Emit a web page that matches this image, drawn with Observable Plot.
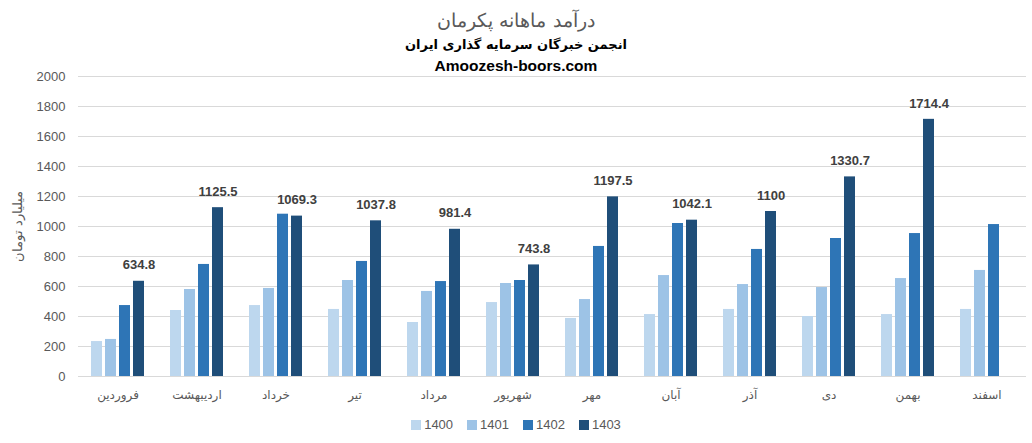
<!DOCTYPE html>
<html>
<head>
<meta charset="utf-8">
<script src="https://cdn.jsdelivr.net/npm/d3@7"></script>
<script src="https://cdn.jsdelivr.net/npm/@observablehq/plot@0.6"></script>
<style>
  body { margin: 0; background: #fff; width: 1032px; height: 443px; overflow: hidden; }
  #header { position: relative; height: 66px; z-index: 1; overflow: visible; pointer-events: none; }
  #header div { position: absolute; left: 0; right: 0; text-align: center; line-height: 24px; height: 24px; white-space: nowrap; }
  #t1 { top: 8px; font-family: "DejaVu Sans", sans-serif; font-size: 19px; font-weight: 300; color: #595959; }
  #t2 { top: 33px; font-family: "DejaVu Sans", sans-serif; font-size: 13px; font-weight: bold; color: #000; }
  #t3 { top: 54px; font-family: "Liberation Sans", Arial, sans-serif; font-size: 15.5px; font-weight: bold; color: #000; }
  #chart svg { display: block; background: transparent; }
  #legend { height: 37px; display: flex; justify-content: center; align-items: center; gap: 14px;
            font-family: "Liberation Sans", Arial, sans-serif; font-size: 13px; color: #595959; }
  #legend .item { display: flex; align-items: center; }
  #legend .sw { width: 10px; height: 10px; margin-right: 3px; }
</style>
</head>
<body>
<div id="header">
  <div id="t1">درآمد ماهانه پکرمان</div>
  <div id="t2">انجمن خبرگان سرمایه گذاری ایران</div>
  <div id="t3">Amoozesh-boors.com</div>
</div>
<div id="chart"></div>
<div id="legend"></div>
<script>
const months = ["فروردین","اردیبهشت","خرداد","تیر","مرداد","شهریور","مهر","آبان","آذر","دی","بهمن","اسفند"];
const years = ["1400","1401","1402","1403"];
const colors = ["#bdd7ee","#9dc3e6","#2e75b6","#1f4e79"];
const yTicks = [0,200,400,600,800,1000,1200,1400,1600,1800,2000];
const yLabel = "میلیارد تومان";

const v1400 = [233, 440, 473, 447, 360, 493, 387, 413, 447, 400, 413, 447];
const v1401 = [247, 580, 587, 640, 567, 620, 513, 673, 613, 593, 653, 707];
const v1402 = [473, 747, 1082, 767, 633, 640, 867, 1020, 847, 920, 953, 1013];
const v1403 = [634.8, 1125.5, 1069.3, 1037.8, 981.4, 743.8, 1197.5, 1042.1, 1100, 1330.7, 1714.4, null];

const series = [v1400, v1401, v1402, v1403];
const rows = [];
months.forEach((m, i) => {
  years.forEach((y, j) => {
    const v = series[j][i];
    if (v != null) rows.push({month: m, year: y, value: v});
  });
});
const labelled = rows.filter(d => d.year === "1403");

const chart = Plot.plot({
  width: 1032,
  height: 340,
  marginTop: 10,
  marginBottom: 30,
  marginLeft: 76,
  marginRight: 4,
  style: {background: "transparent"},
  fx: {domain: months, padding: 0, label: null, axis: null},
  x: {domain: years, axis: null, paddingInner: 0.2, paddingOuter: 0.835},
  y: {domain: [0, 2000], axis: null},
  color: {domain: years, range: colors},
  marks: [
    Plot.ruleY(yTicks, {stroke: "#d9d9d9", strokeWidth: 1}),
    Plot.axisY({
      ticks: yTicks, tickSize: 0, tickPadding: 13, tickFormat: d => String(d),
      fontSize: 13, fontFamily: "Liberation Sans, Arial, sans-serif", color: "#595959",
      label: yLabel, labelAnchor: "center", labelOffset: 66, labelArrow: "none"
    }),
    Plot.axisFx({
      anchor: "bottom", tickSize: 0, tickPadding: 14, label: null,
      fontSize: 12, fontFamily: "DejaVu Sans, sans-serif", color: "#595959"
    }),
    Plot.barY(rows, {fx: "month", x: "year", y: "value", fill: "year"}),
    Plot.text(labelled, {
      fx: "month", x: "year", y: "value", text: d => String(d.value),
      dy: -16, fontWeight: "bold", fontSize: 13, fill: "#404040",
      fontFamily: "Liberation Sans, Arial, sans-serif"
    })
  ]
});
document.getElementById("chart").appendChild(chart);

chart.querySelectorAll('g[aria-label="y-axis label"] text').forEach(t => {
  t.setAttribute("font-family", "DejaVu Sans, sans-serif");
  t.setAttribute("font-size", "13");
  t.setAttribute("font-weight", "300");
});

const legend = document.getElementById("legend");
years.forEach((y, j) => {
  const item = document.createElement("div");
  item.className = "item";
  const sw = document.createElement("span");
  sw.className = "sw";
  sw.style.background = colors[j];
  const tx = document.createElement("span");
  tx.textContent = y;
  item.appendChild(sw);
  item.appendChild(tx);
  legend.appendChild(item);
});
</script>
</body>
</html>
